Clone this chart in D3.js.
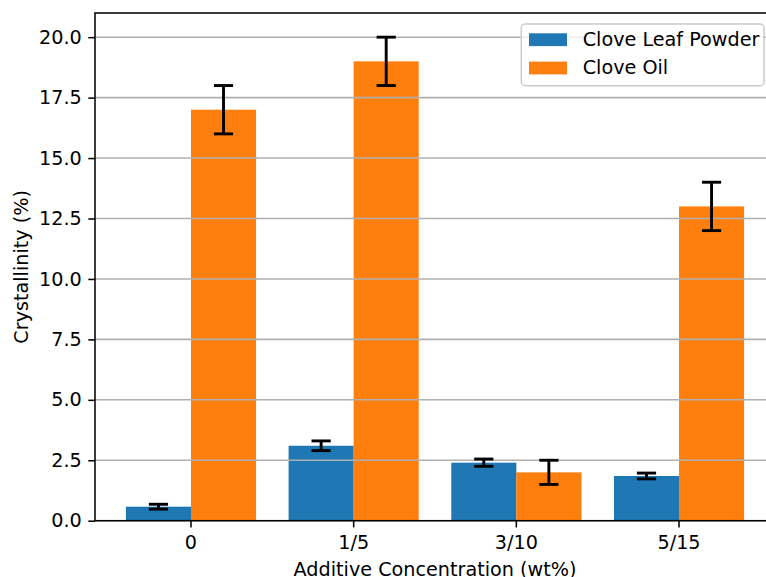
<!DOCTYPE html>
<html>
<head>
<meta charset="utf-8">
<script src="https://cdn.jsdelivr.net/npm/d3@7"></script>
<style>
  body { margin: 0; background: #fff; }
  svg { display: block; font-family: "DejaVu Sans", sans-serif; }
</style>
</head>
<body>
<svg id="chart" width="766" height="577"></svg>
<script>
const categories = ["0", "1/5", "3/10", "5/15"];
const seriesNames = ["Clove Leaf Powder", "Clove Oil"];
const powderValues = [0.58, 3.1, 2.4, 1.85];
const powderErrors = [0.1, 0.2, 0.15, 0.12];
const oilValues = [17, 19, 2.0, 13];
const oilErrors = [1, 1, 0.5, 1];
const yTicks = [0, 2.5, 5, 7.5, 10, 12.5, 15, 17.5, 20];

const COLORS = ["#1f77b4", "#ff7f0e"];
const FONT = 19.2;
const LW = 1.53;

const plotLeft = 95, plotRight = 775, plotTop = 13, plotBottom = 520.7;

const svg = d3.select("#chart");

// rows: one per bar
const rows = [];
categories.forEach((c, i) => {
  rows.push({ cat: c, series: seriesNames[0], value: powderValues[i], err: powderErrors[i] });
  rows.push({ cat: c, series: seriesNames[1], value: oilValues[i], err: oilErrors[i] });
});

const x = d3.scaleBand().domain(categories).range([plotLeft, plotRight])
  .paddingInner(0).paddingOuter(0.09);
const step = x.step();
const xs = d3.scaleBand().domain(seriesNames).range([-0.4 * step, 0.4 * step]);
const y = d3.scaleLinear().domain([0, 21]).range([plotBottom, plotTop]);

const center = (c) => x(c) + step / 2;

// bars
svg.append("g")
  .selectAll("rect")
  .data(rows)
  .enter()
  .append("rect")
  .attr("x", (d) => center(d.cat) + xs(d.series))
  .attr("width", xs.bandwidth())
  .attr("y", (d) => y(d.value))
  .attr("height", (d) => y(0) - y(d.value))
  .attr("fill", (d) => COLORS[seriesNames.indexOf(d.series)]);

// grid over bars (matplotlib default order)
svg.append("g")
  .selectAll("line")
  .data(yTicks)
  .enter()
  .append("line")
  .attr("x1", plotLeft)
  .attr("x2", plotRight)
  .attr("y1", (d) => y(d))
  .attr("y2", (d) => y(d))
  .attr("stroke", "#b0b0b0")
  .attr("stroke-width", LW);

// error bars
const eb = svg.append("g").attr("stroke", "#000").attr("stroke-width", 2.9);
rows.forEach((d) => {
  const cx = center(d.cat) + xs(d.series) + xs.bandwidth() / 2;
  eb.append("line").attr("x1", cx).attr("x2", cx)
    .attr("y1", y(d.value - d.err)).attr("y2", y(d.value + d.err));
  [d.value - d.err, d.value + d.err].forEach((v) => {
    eb.append("line").attr("x1", cx - 9.6).attr("x2", cx + 9.6)
      .attr("y1", y(v)).attr("y2", y(v));
  });
});

// axes
const yAxis = d3.axisLeft(y).tickValues(yTicks).tickFormat(d3.format(".1f"))
  .tickSize(6.7).tickPadding(6.5);
const gy = svg.append("g").attr("transform", `translate(${plotLeft},0)`).call(yAxis);
gy.select(".domain").remove();

const xAxis = d3.axisBottom(x).tickSize(6.7).tickPadding(7.5);
const gx = svg.append("g").attr("transform", `translate(0,${plotBottom})`).call(xAxis);
gx.select(".domain").remove();

[gx, gy].forEach((g) => {
  g.selectAll("text").attr("font-size", FONT).attr("fill", "#000")
    .attr("font-family", "DejaVu Sans");
  g.selectAll(".tick line").attr("stroke", "#000").attr("stroke-width", LW);
});

// spines
svg.append("rect")
  .attr("x", plotLeft).attr("y", plotTop)
  .attr("width", plotRight - plotLeft).attr("height", plotBottom - plotTop)
  .attr("fill", "none").attr("stroke", "#000").attr("stroke-width", LW);

// labels
svg.append("text")
  .attr("x", (plotLeft + plotRight) / 2).attr("y", 575.7)
  .attr("text-anchor", "middle").attr("font-size", FONT)
  .text("Additive Concentration (wt%)");

svg.append("text")
  .attr("transform", `translate(27.5,${(plotTop + plotBottom) / 2}) rotate(-90)`)
  .attr("text-anchor", "middle").attr("font-size", FONT)
  .text("Crystallinity (%)");

// legend
const lg = svg.append("g");
lg.append("rect")
  .attr("x", 521.3).attr("y", 24).attr("width", 242.7).attr("height", 61.7)
  .attr("rx", 4)
  .attr("fill", "#fff").attr("fill-opacity", 0.8)
  .attr("stroke", "#cccccc").attr("stroke-width", LW);
seriesNames.forEach((s, i) => {
  const base = 45.7 + i * 28.3;
  lg.append("rect")
    .attr("x", 529).attr("y", base - 12.4).attr("width", 38).attr("height", 12.8)
    .attr("fill", COLORS[i]);
  lg.append("text")
    .attr("x", 582.7).attr("y", base)
    .attr("font-size", FONT)
    .text(s);
});
</script>
</body>
</html>
